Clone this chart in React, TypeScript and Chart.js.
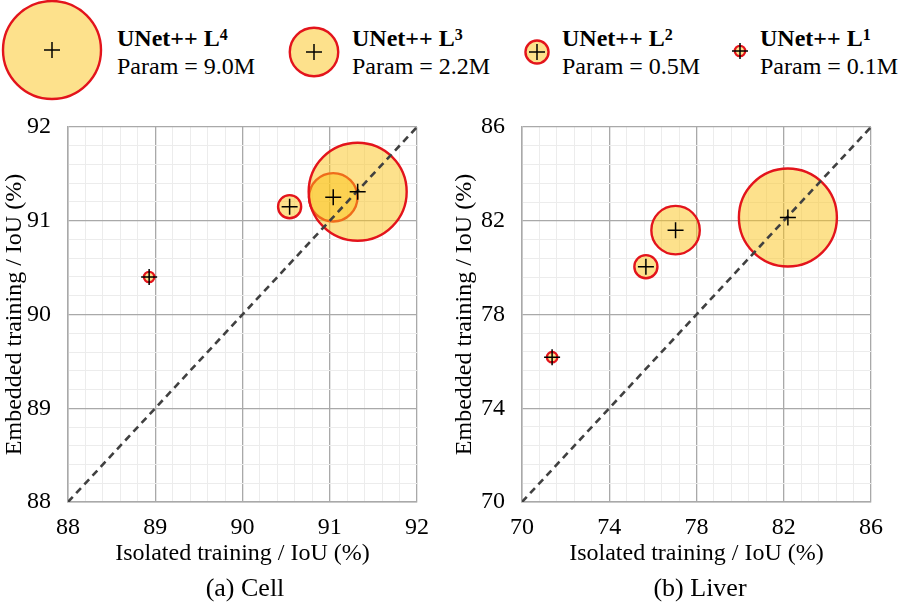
import React, { useEffect, useRef } from "react";
import { Chart, registerables } from "chart.js";

Chart.register(...registerables);

// ---------- data ----------
const levelNames = ["UNet++ L", "UNet++ L", "UNet++ L", "UNet++ L"];
const levelSup = ["1", "2", "3", "4"];
const paramsM = [0.1, 0.5, 2.2, 9.0];

const cellIsolated = [88.93, 90.54, 91.04, 91.32];
const cellEmbedded = [90.4, 91.15, 91.25, 91.31];

const liverIsolated = [71.38, 75.68, 77.04, 82.19];
const liverEmbedded = [76.18, 80.04, 81.6, 82.14];

const cellTicks = [88, 89, 90, 91, 92];
const liverTicks = [70, 74, 78, 82, 86];

// ---------- styles ----------
const FONT = "'Liberation Serif', 'Times New Roman', serif";
const FILL = "rgba(252,196,25,0.5)";
const RED = "#e3141c";
const R_MAX = 49;
const radiusOf = (p: number) => R_MAX * Math.sqrt(p / paramsM[paramsM.length - 1]);

type ChartProps = {
  xs: number[];
  ys: number[];
  ticks: number[];
  left: number;
  yWidth: number;
  rightPad: number;
};

function BubblePanel({ xs, ys, ticks, left, yWidth, rightPad }: ChartProps) {
  const ref = useRef<HTMLCanvasElement | null>(null);
  useEffect(() => {
    if (!ref.current) return;
    const min = ticks[0];
    const max = ticks[ticks.length - 1];
    const major = ticks[1] - ticks[0];
    const minor = major / 5;
    const isMajor = (v: number) => {
      const k = (v - min) / major;
      return Math.abs(k - Math.round(k)) < 1e-3;
    };
    const gridColor = (ctx: any) => (ctx.tick && isMajor(ctx.tick.value) ? "#a9a9a9" : "#ececec");
    const gridWidth = (ctx: any) => (ctx.tick && isMajor(ctx.tick.value) ? 1.3 : 1);
    const tickCb = (v: any) => (isMajor(Number(v)) ? String(Math.round(Number(v))) : "");
    const bubbles = xs.map((x, i) => ({ x, y: ys[i], r: radiusOf(paramsM[i]) }));
    const crosses = xs.map((x, i) => ({ x, y: ys[i] }));
    const chart = new Chart(ref.current, {
      type: "bubble",
      data: {
        datasets: [
          {
            type: "scatter",
            data: crosses,
            pointStyle: "cross",
            pointRadius: 8,
            borderColor: "#000",
            borderWidth: 1.5,
            backgroundColor: "#000",
            order: 0,
          } as any,
          {
            type: "line",
            data: [
              { x: min, y: min },
              { x: max, y: max },
            ],
            borderColor: "#404040",
            borderWidth: 2.6,
            borderDash: [7, 5],
            pointRadius: 0,
            order: 1,
          } as any,
          {
            type: "bubble",
            data: bubbles,
            backgroundColor: FILL,
            borderColor: RED,
            borderWidth: 2.4,
            order: 2,
            clip: false,
          } as any,
        ],
      },
      options: {
        responsive: false,
        animation: false,
        devicePixelRatio: 1,
        events: [],
        layout: { autoPadding: false, padding: { left: 0, top: 22, right: rightPad, bottom: 36 } },
        plugins: { legend: { display: false }, tooltip: { enabled: false } },
        scales: {
          x: {
            type: "linear",
            min,
            max,
            afterFit: (s: any) => {
              s.height = 66;
              s.paddingLeft = 0;
              s.paddingRight = 0;
            },
            ticks: {
              stepSize: minor,
              autoSkip: false,
              maxRotation: 0,
              minRotation: 0,
              padding: 11,
              color: "#000",
              font: { family: FONT, size: 24 },
              callback: tickCb,
            },
            grid: { drawTicks: false, color: gridColor, lineWidth: gridWidth },
            border: { color: "#a9a9a9", width: 1.5 },
            title: {
              display: true,
              text: "Isolated training / IoU (%)",
              color: "#000",
              font: { family: FONT, size: 24 },
              padding: 0,
            },
          },
          y: {
            type: "linear",
            min,
            max,
            afterFit: (s: any) => {
              s.width = yWidth;
              s.paddingTop = 0;
              s.paddingBottom = 0;
            },
            ticks: {
              stepSize: minor,
              autoSkip: false,
              padding: 17,
              color: "#000",
              font: { family: FONT, size: 24 },
              callback: tickCb,
            },
            grid: { drawTicks: false, color: gridColor, lineWidth: gridWidth },
            border: { color: "#a9a9a9", width: 1.5 },
            title: {
              display: true,
              text: "Embedded training / IoU (%)",
              color: "#000",
              font: { family: FONT, size: 24 },
              padding: 0,
            },
          },
        },
      } as any,
    });
    return () => chart.destroy();
  }, []);
  return (
    <canvas
      ref={ref}
      width={450}
      height={499}
      style={{ position: "absolute", left, top: 105, width: 450, height: 499 }}
    />
  );
}

const legendCenters = [
  { cx: 740, cy: 51, tx: 760 },
  { cx: 537, cy: 52, tx: 562 },
  { cx: 314, cy: 52, tx: 352 },
  { cx: 52, cy: 50, tx: 117 },
];

function Legend() {
  return (
    <>
      <svg width={900} height={105} style={{ position: "absolute", left: 0, top: 0 }}>
        {legendCenters.map((c, i) => (
          <g key={i}>
            <circle cx={c.cx} cy={c.cy} r={radiusOf(paramsM[i])} fill={FILL} stroke={RED} strokeWidth={2.4} />
            <line x1={c.cx - 8} x2={c.cx + 8} y1={c.cy} y2={c.cy} stroke="#000" strokeWidth={1.5} />
            <line x1={c.cx} x2={c.cx} y1={c.cy - 8} y2={c.cy + 8} stroke="#000" strokeWidth={1.5} />
          </g>
        ))}
      </svg>
      {legendCenters.map((c, i) => (
        <div
          key={"t" + i}
          style={{
            position: "absolute",
            left: c.tx,
            top: 24,
            fontFamily: FONT,
            fontSize: 24,
            lineHeight: "28px",
            color: "#000",
            whiteSpace: "nowrap",
          }}
        >
          <div style={{ fontWeight: "bold" }}>
            {levelNames[i]}
            <span style={{ fontSize: 16, verticalAlign: "top", position: "relative", top: -3 }}>{levelSup[i]}</span>
          </div>
          <div>{"Param = " + paramsM[i].toFixed(1) + "M"}</div>
        </div>
      ))}
    </>
  );
}

export default function App() {
  return (
    <div style={{ position: "absolute", left: 0, top: 0, width: 900, height: 604, background: "#fff", overflow: "hidden" }}>
      <Legend />
      <BubblePanel xs={cellIsolated} ys={cellEmbedded} ticks={cellTicks} left={0} yWidth={68} rightPad={33} />
      <BubblePanel xs={liverIsolated} ys={liverEmbedded} ticks={liverTicks} left={450} yWidth={72} rightPad={29} />
      <div style={{ position: "absolute", left: 145, top: 572, width: 200, textAlign: "center", fontFamily: FONT, fontSize: 26, lineHeight: "32px" }}>
        (a) Cell
      </div>
      <div style={{ position: "absolute", left: 600, top: 572, width: 200, textAlign: "center", fontFamily: FONT, fontSize: 26, lineHeight: "32px" }}>
        (b) Liver
      </div>
    </div>
  );
}
